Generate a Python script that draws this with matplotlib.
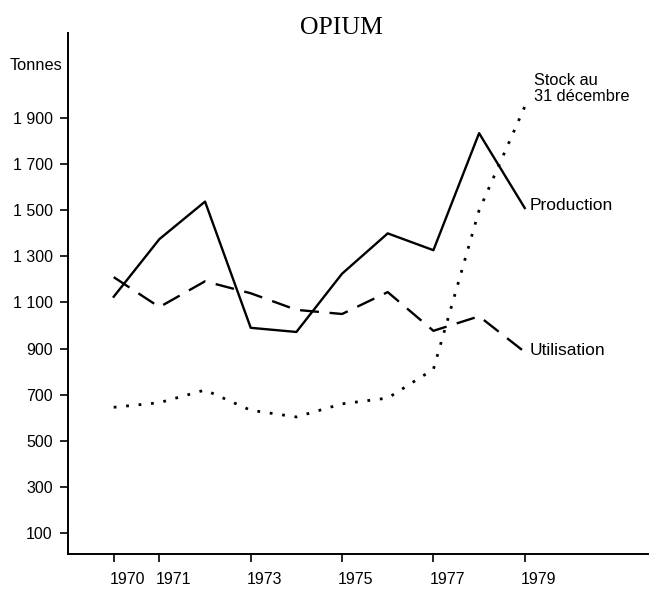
import numpy as np
import matplotlib.pyplot as plt
import matplotlib.transforms as mtransforms

years = [1970, 1971, 1972, 1973, 1974, 1975, 1976, 1977, 1978, 1979]
production = [1125, 1375, 1538, 990, 972, 1225, 1400, 1327, 1835, 1510]
utilisation = [1210, 1080, 1192, 1140, 1068, 1050, 1145, 977, 1040, 885]
stock = [645, 665, 720, 632, 603, 660, 685, 810, 1500, 1950]

yticks = [100, 300, 500, 700, 900, 1100, 1300, 1500, 1700, 1900]
ytick_labels = ["100", "300", "500", "700", "900", "1 100", "1 300",
                "1 500", "1 700", "1 900"]
xticks = [1970, 1971, 1973, 1975, 1977, 1979]

plt.rcParams['font.family'] = ['Liberation Sans', 'DejaVu Sans']

fig = plt.figure(figsize=(6.51, 5.89), dpi=100)
ax = fig.add_axes([0.1045, 0.0594, 0.891, 0.8846])

ax.plot(years, production, color='black', lw=1.7, ls='-')
ax.plot(years, utilisation, color='black', lw=1.7, ls=(0, (8, 4.5)))
ax.plot(years, stock, color='black', lw=2.0, ls=(0, (1, 3.5)))

ax.set_xlim(1969.0, 1981.7)
ax.set_ylim(8, 2270)

ax.set_yticks(yticks)
ax.set_yticklabels(ytick_labels)
ax.set_xticks(xticks)
ax.set_xticklabels([str(x) for x in xticks])
ax.tick_params(axis='both', labelsize=11.5, length=6, width=1.2, pad=5,
               direction='out', color='black')
ax.tick_params(axis='x', pad=7)

# year labels start at the tick rather than centred on it
shift = mtransforms.ScaledTranslation(-4 / 100, 0, fig.dpi_scale_trans)
for lab in ax.get_xticklabels():
    lab.set_horizontalalignment('left')
    lab.set_transform(lab.get_transform() + shift)

for side in ['top', 'right']:
    ax.spines[side].set_visible(False)
for side in ['left', 'bottom']:
    ax.spines[side].set_linewidth(1.4)

# series labels
ax.text(1979.1, production[-1] + 10, "Production", fontsize=12.5,
        va='center', ha='left')
ax.text(1979.1, utilisation[-1] + 5, "Utilisation", fontsize=12.5,
        va='center', ha='left')
ax.text(1979.2, 2030, "Stock au\n31 décembre", fontsize=11.8,
        va='center', ha='left', linespacing=1.1)

fig.text(0.015, 0.888, "Tonnes", fontsize=11.8, va='center', ha='left')
fig.text(0.525, 0.952, "OPIUM", fontsize=18.5, va='center', ha='center',
         family=['Liberation Serif', 'DejaVu Serif'])

fig.savefig("out.png", dpi=100)
